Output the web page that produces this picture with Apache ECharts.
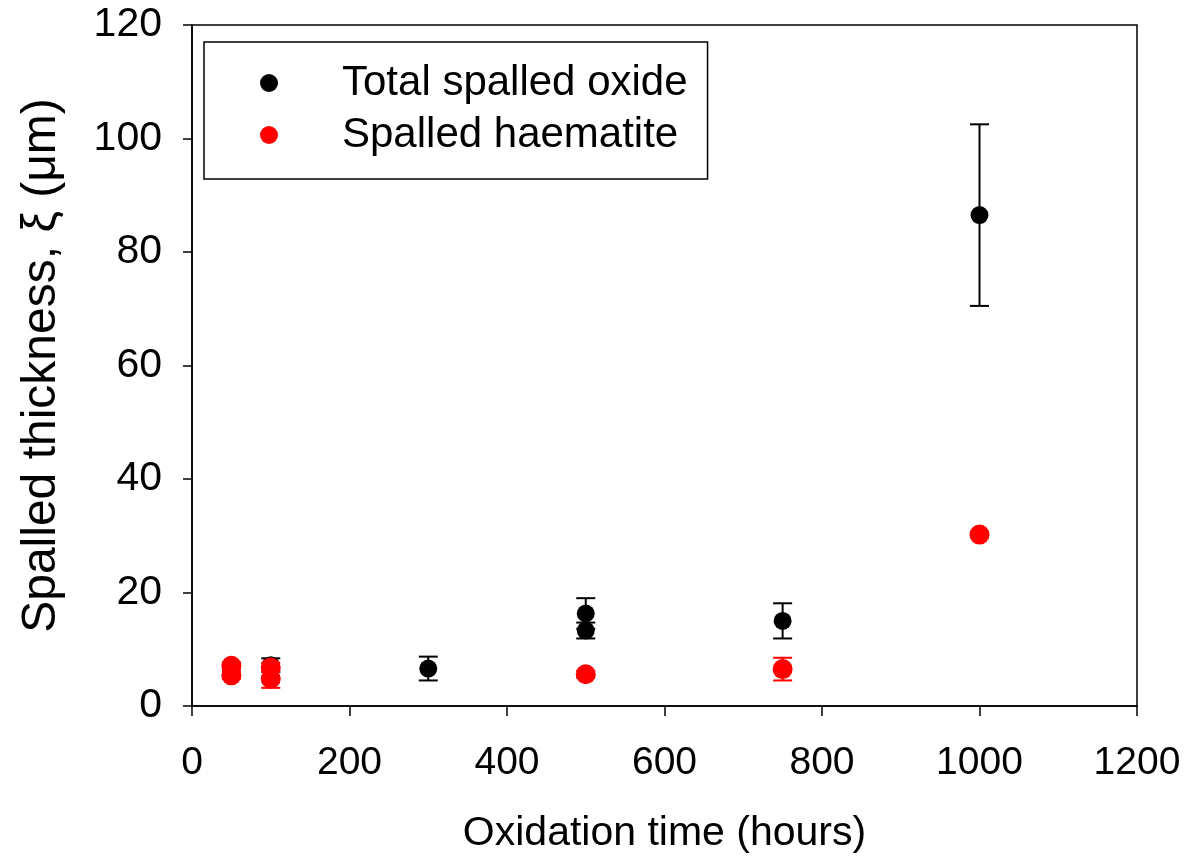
<!DOCTYPE html>
<html>
<head>
<meta charset="utf-8">
<script src="https://cdn.jsdelivr.net/npm/echarts@6/dist/echarts.min.js"></script>
<style>
html,body{margin:0;padding:0;background:#fff;}
#c{width:1188px;height:856px;}
</style>
</head>
<body>
<div id="c"></div>
<script>
// Data
var totalX   = [50, 100, 300, 500, 500, 750, 1000];
var totalY   = [6.3, 7.2, 6.6, 16.3, 13.3, 15.0, 86.5];
var totalErr = [0.8, 1.2, 2.1, 2.7, 1.4, 3.1, 16.0];

var hemX   = [50, 50, 100, 100, 500, 750, 1000];
var hemY   = [7.1, 5.4, 6.8, 4.8, 5.6, 6.5, 30.2];
var hemErr = [0.6, 0.6, 0.8, 1.6, 0.6, 2.0, 0.5];

var xTicks = [0, 200, 400, 600, 800, 1000, 1200];
var yTicks = [0, 20, 40, 60, 80, 100, 120];

var FONT = '"Liberation Sans", Arial, sans-serif';

function pts(xs, ys) { return xs.map(function (x, i) { return [x, ys[i]]; }); }
function errs(xs, ys, es) { return xs.map(function (x, i) { return [x, ys[i] - es[i], ys[i] + es[i]]; }); }

function errRender(color) {
  return function (params, api) {
    var x = api.value(0);
    var lo = api.coord([x, api.value(1)]);
    var hi = api.coord([x, api.value(2)]);
    var hw = 9.5;
    var st = { stroke: color, lineWidth: 2 };
    return {
      type: 'group',
      children: [
        { type: 'line', shape: { x1: lo[0], y1: lo[1], x2: hi[0], y2: hi[1] }, style: st },
        { type: 'line', shape: { x1: lo[0] - hw, y1: lo[1], x2: lo[0] + hw, y2: lo[1] }, style: st },
        { type: 'line', shape: { x1: hi[0] - hw, y1: hi[1], x2: hi[0] + hw, y2: hi[1] }, style: st }
      ]
    };
  };
}

var chart = echarts.init(document.getElementById('c'), null, { renderer: 'canvas' });
chart.setOption({
  backgroundColor: '#fff',
  animation: false,
  textStyle: { fontFamily: FONT },
  grid: {
    left: 192, right: 51, top: 25, bottom: 150,
    outerBoundsMode: 'none', containLabel: false,
    show: true, borderColor: '#000', borderWidth: 1.5, backgroundColor: 'transparent'
  },
  legend: {
    orient: 'vertical',
    left: 204, top: 42,
    padding: [20, 20, 23, 56],
    borderColor: '#000', borderWidth: 1.5,
    itemWidth: 18, itemHeight: 18, itemGap: 10,
    icon: 'circle',
    textStyle: { fontSize: 42, color: '#000', fontFamily: FONT, lineHeight: 42, padding: [0, 0, 0, 59] },
    data: [
      { name: 'Total spalled oxide', itemStyle: { color: '#000' } },
      { name: 'Spalled haematite', itemStyle: { color: '#ff0000' } }
    ]
  },
  xAxis: {
    type: 'value', min: 0, max: 1200, interval: 200,
    name: 'Oxidation time (hours)', nameLocation: 'middle', nameGap: 107,
    nameTextStyle: { fontSize: 41, color: '#000', fontFamily: FONT },
    axisLine: { show: true, onZero: false, lineStyle: { color: '#000', width: 1.5 } },
    axisTick: { show: true, inside: false, length: 10, lineStyle: { color: '#000', width: 1.5 } },
    axisLabel: {
      color: '#000', fontSize: 39, margin: 38, fontFamily: FONT,
      formatter: function (v) { return xTicks.indexOf(v) >= 0 ? String(v) : ''; }
    },
    splitLine: { show: false }
  },
  yAxis: {
    type: 'value', min: 0, max: 120, interval: 20,
    name: 'Spalled thickness, \u03BE (\u03BCm)', nameLocation: 'middle', nameGap: 126, nameRotate: 90,
    nameTextStyle: { fontSize: 48, color: '#000', fontFamily: FONT },
    axisLine: { show: true, onZero: false, lineStyle: { color: '#000', width: 1.5 } },
    axisTick: { show: true, inside: false, length: 9, lineStyle: { color: '#000', width: 1.5 } },
    axisLabel: {
      color: '#000', fontSize: 41, margin: 30, fontFamily: FONT,
      formatter: function (v) { return yTicks.indexOf(v) >= 0 ? String(v) : ''; }
    },
    splitLine: { show: false }
  },
  series: [
    {
      name: 'Total spalled oxide err', type: 'custom', renderItem: errRender('#000'),
      data: errs(totalX, totalY, totalErr), encode: { x: 0, y: [1, 2] }, z: 2, silent: true
    },
    {
      name: 'Total spalled oxide', type: 'scatter', symbol: 'circle', symbolSize: 18,
      itemStyle: { color: '#000', opacity: 1 }, data: pts(totalX, totalY), z: 3
    },
    {
      name: 'Spalled haematite err', type: 'custom', renderItem: errRender('#ff0000'),
      data: errs(hemX, hemY, hemErr), encode: { x: 0, y: [1, 2] }, z: 4, silent: true
    },
    {
      name: 'Spalled haematite', type: 'scatter', symbol: 'circle', symbolSize: 20,
      itemStyle: { color: '#ff0000', opacity: 1 }, data: pts(hemX, hemY), z: 5
    }
  ]
});
</script>
</body>
</html>
